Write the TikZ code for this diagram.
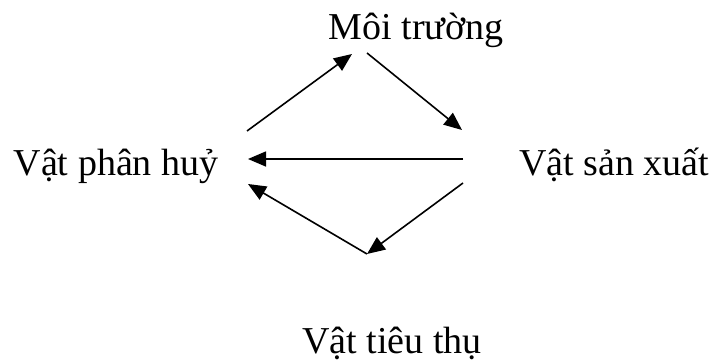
\documentclass[tikz,border=0pt]{standalone}
\usepackage{fontspec}
\setmainfont{Liberation Serif}
\usetikzlibrary{arrows.meta}
\tikzset{
  part/.style  = {font=\fontsize{38}{40}\selectfont, inner sep=0pt, anchor=base},
  flow/.style  = {-{Triangle[length=18pt,width=15pt]}, line width=1.6pt}
}
\begin{document}
\begin{tikzpicture}[x=1pt, y=1pt]
  \useasboundingbox (0,0) rectangle (719,362);

  % The four parts of the cycle.
  \node[part] (MT) at (416,322) {Môi trường};
  \node[part] (PH) at (116,187) {Vật phân huỷ};
  \node[part] (SX) at (614,187) {Vật sản xuất};
  \node[part] (TT) at (392,9)   {Vật tiêu thụ};

  % Free arrow ends (the arrows stop short of the texts).
  \coordinate (ph1) at (247,231);
  \coordinate (mt1) at (352,308);
  \coordinate (mt2) at (367,309);
  \coordinate (sx1) at (462,232);
  \coordinate (sx2) at (463,203);
  \coordinate (ph2) at (248,203);
  \coordinate (sx3) at (463,179);
  \coordinate (tt1) at (367,108);
  \coordinate (ph3) at (248,178);

  % Arrows.
  \draw[flow] (ph1) -- (mt1);
  \draw[flow] (mt2) -- (sx1);
  \draw[flow] (sx2) -- (ph2);
  \draw[flow] (sx3) -- (tt1);
  \draw[flow] (tt1) -- (ph3);

\end{tikzpicture}
\end{document}
